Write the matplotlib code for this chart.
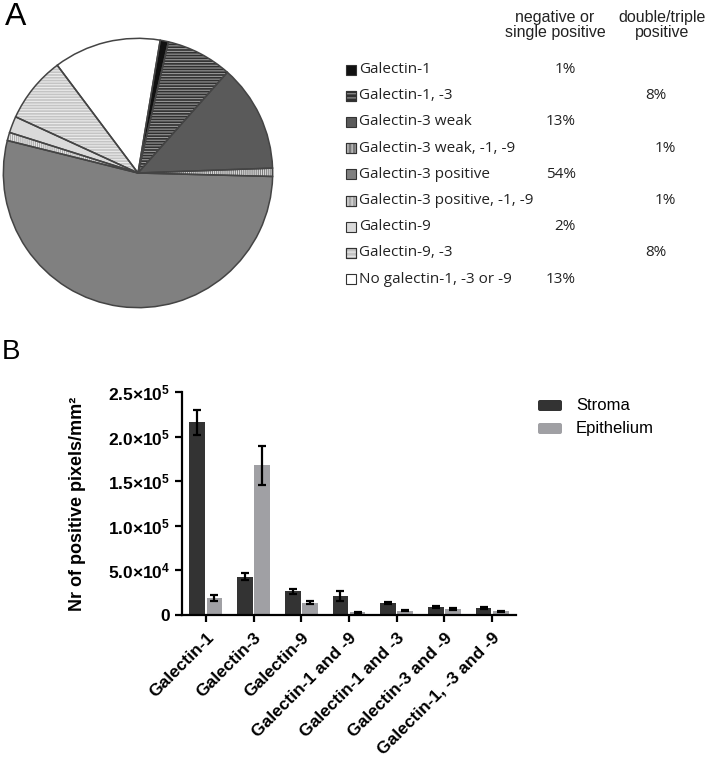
import numpy as np
import matplotlib
matplotlib.use("agg")
import matplotlib.pyplot as plt
from matplotlib.patches import Rectangle, FancyBboxPatch

plt.rcParams['font.family'] = ['Liberation Sans', 'DejaVu Sans']
plt.rcParams['hatch.linewidth'] = 0.8
plt.rcParams['mathtext.fontset'] = 'custom'
plt.rcParams['mathtext.rm'] = 'Liberation Sans'
plt.rcParams['mathtext.bf'] = 'Liberation Sans:bold'

# ---------------- data: pie (panel A) ----------------
pie_labels = ["Galectin-1", "Galectin-1, -3", "Galectin-3 weak", "Galectin-3 weak, -1, -9",
              "Galectin-3 positive", "Galectin-3 positive, -1, -9", "Galectin-9",
              "Galectin-9, -3", "No galectin-1, -3 or -9"]
pie_values = [1, 8, 13, 1, 54, 1, 2, 8, 13]
single_pct = ["1%", "", "13%", "", "54%", "", "2%", "", "13%"]
double_pct = ["", "8%", "", "1%", "", "1%", "", "8%", ""]

# ---------------- data: bars (panel B) ----------------
categories = ["Galectin-1", "Galectin-3", "Galectin-9", "Galectin-1 and -9",
              "Galectin-1 and -3", "Galectin-3 and -9", "Galectin-1, -3 and -9"]
stroma = [216000, 43000, 26500, 21000, 13500, 9000, 8000]
stroma_err = [14000, 3800, 2500, 5500, 1500, 1000, 1000]
epith = [19000, 168000, 14000, 3000, 4800, 7000, 4000]
epith_err = [3500, 22000, 1500, 800, 800, 1000, 700]
yticks = [0, 50000, 100000, 150000, 200000, 250000]
ytick_labels = ["0", r"$\mathbf{5.0{\times}10^4}$", r"$\mathbf{1.0{\times}10^5}$",
                r"$\mathbf{1.5{\times}10^5}$", r"$\mathbf{2.0{\times}10^5}$",
                r"$\mathbf{2.5{\times}10^5}$"]

# styles
face = ["#111111", "#303030", "#5a5a5a", "#7a7a7a", "#808080", "#a8a8a8",
        "#dadada", "#c4c4c4", "#ffffff"]
hatch = [None, "------", None, "||||||||", None, "||||||||", None, "------", None]
hatch_col = ["#111111", "#999999", "#5a5a5a", "#d8d8d8", "#808080", "#e6e6e6",
             "#dadada", "#ececec", "#ffffff"]

W, H = 706, 757
fig = plt.figure(figsize=(W / 100, H / 100), dpi=100)

# ---------------- pie ----------------
cx, cy, r = 138, 173, 136
axp = fig.add_axes([(cx - r) / W, 1 - (cy + r) / H, 2 * r / W, 2 * r / H])
wedges, _ = axp.pie(pie_values, colors=face, startangle=80.5, counterclock=False,
                    wedgeprops=dict(linewidth=0))
for w, h, hc in zip(wedges, hatch, hatch_col):
    if h:
        w.set_hatch(h)
        w.set_edgecolor(hc)
axp.pie(pie_values, colors=["none"] * len(pie_values), startangle=80.5, counterclock=False,
        wedgeprops=dict(linewidth=1.1, edgecolor="#444444", fill=False))
axp.set_xlim(-1.01, 1.01)
axp.set_ylim(-1.01, 1.01)
axp.set_aspect("equal")
axp.axis("off")

# ---------------- overlay for text ----------------
ov = fig.add_axes([0, 0, 1, 1])
ov.set_xlim(0, W)
ov.set_ylim(H, 0)
ov.axis("off")

ov.text(5, 17, "A", fontsize=23, va="center", ha="left")
ov.text(2, 352, "B", fontsize=20, va="center", ha="left")

ov.text(555, 25, "negative or\nsingle positive", fontsize=11.5, ha="center", va="center",
        linespacing=0.95, color="#222222")
ov.text(662, 25, "double/triple\npositive", fontsize=11.5, ha="center", va="center",
        linespacing=0.95, color="#222222")

row_y0, row_dy = 69.5, 26.2
lfont = ["Open Sans", "DejaVu Sans"]
for i, lab in enumerate(pie_labels):
    y = row_y0 + i * row_dy
    ov.add_patch(Rectangle((346, y - 5), 10, 10, facecolor=face[i], edgecolor="#333333",
                           linewidth=0.8))
    if hatch[i]:
        ov.add_patch(Rectangle((346, y - 5), 10, 10, facecolor="none", edgecolor=hatch_col[i],
                               hatch=hatch[i][:4], linewidth=0))
        ov.add_patch(Rectangle((346, y - 5), 10, 10, facecolor="none", edgecolor="#333333",
                               linewidth=0.8))
    ov.text(359, y, lab, fontsize=11, family=lfont, va="center", ha="left", color="#222222")
    if single_pct[i]:
        ov.text(576, y, single_pct[i], fontsize=11, family=lfont, va="center", ha="right",
                color="#222222")
    if double_pct[i]:
        ov.text(676 if double_pct[i] == "1%" else 667, y, double_pct[i], fontsize=11,
                family=lfont, va="center", ha="right", color="#222222")

# bar legend
ov.add_patch(FancyBboxPatch((538, 400), 24, 11, boxstyle="round,pad=0,rounding_size=2",
                            facecolor="#333333", edgecolor="none"))
ov.add_patch(FancyBboxPatch((538, 423), 24, 11, boxstyle="round,pad=0,rounding_size=2",
                            facecolor="#a0a0a4", edgecolor="none"))
ov.text(576, 406, "Stroma", fontsize=12, va="center", ha="left")
ov.text(576, 429, "Epithelium", fontsize=12, va="center", ha="left")

# ---------------- bars ----------------
axb = fig.add_axes([182 / W, 1 - 615 / H, (516 - 182) / W, (615 - 392) / H])
x = np.arange(len(categories))
bw = 0.33
ekw = dict(elinewidth=1.6, capthick=1.6, ecolor="black")
axb.bar(x - 0.18, stroma, bw, color="#333333", yerr=stroma_err, capsize=3, error_kw=ekw)
axb.bar(x + 0.18, epith, bw, color="#a0a0a4", yerr=epith_err, capsize=3, error_kw=ekw)
axb.set_xlim(-0.5, len(categories) - 0.5)
axb.set_ylim(0, 250000)
axb.set_yticks(yticks)
axb.set_yticklabels(ytick_labels, fontsize=12.5, fontweight="bold")
axb.set_xticks(x)
axb.set_xticklabels(categories, rotation=45, ha="right", rotation_mode="anchor",
                    fontsize=12.5, fontweight="bold")
for s in ["top", "right"]:
    axb.spines[s].set_visible(False)
for s in ["left", "bottom"]:
    axb.spines[s].set_linewidth(1.6)
axb.tick_params(width=1.6, length=5)
axb.tick_params(axis="x", pad=6)
axb.set_ylabel("Nr of positive pixels/mm²", fontsize=13, fontweight="bold", labelpad=16)

fig.savefig("out.png", dpi=100)
